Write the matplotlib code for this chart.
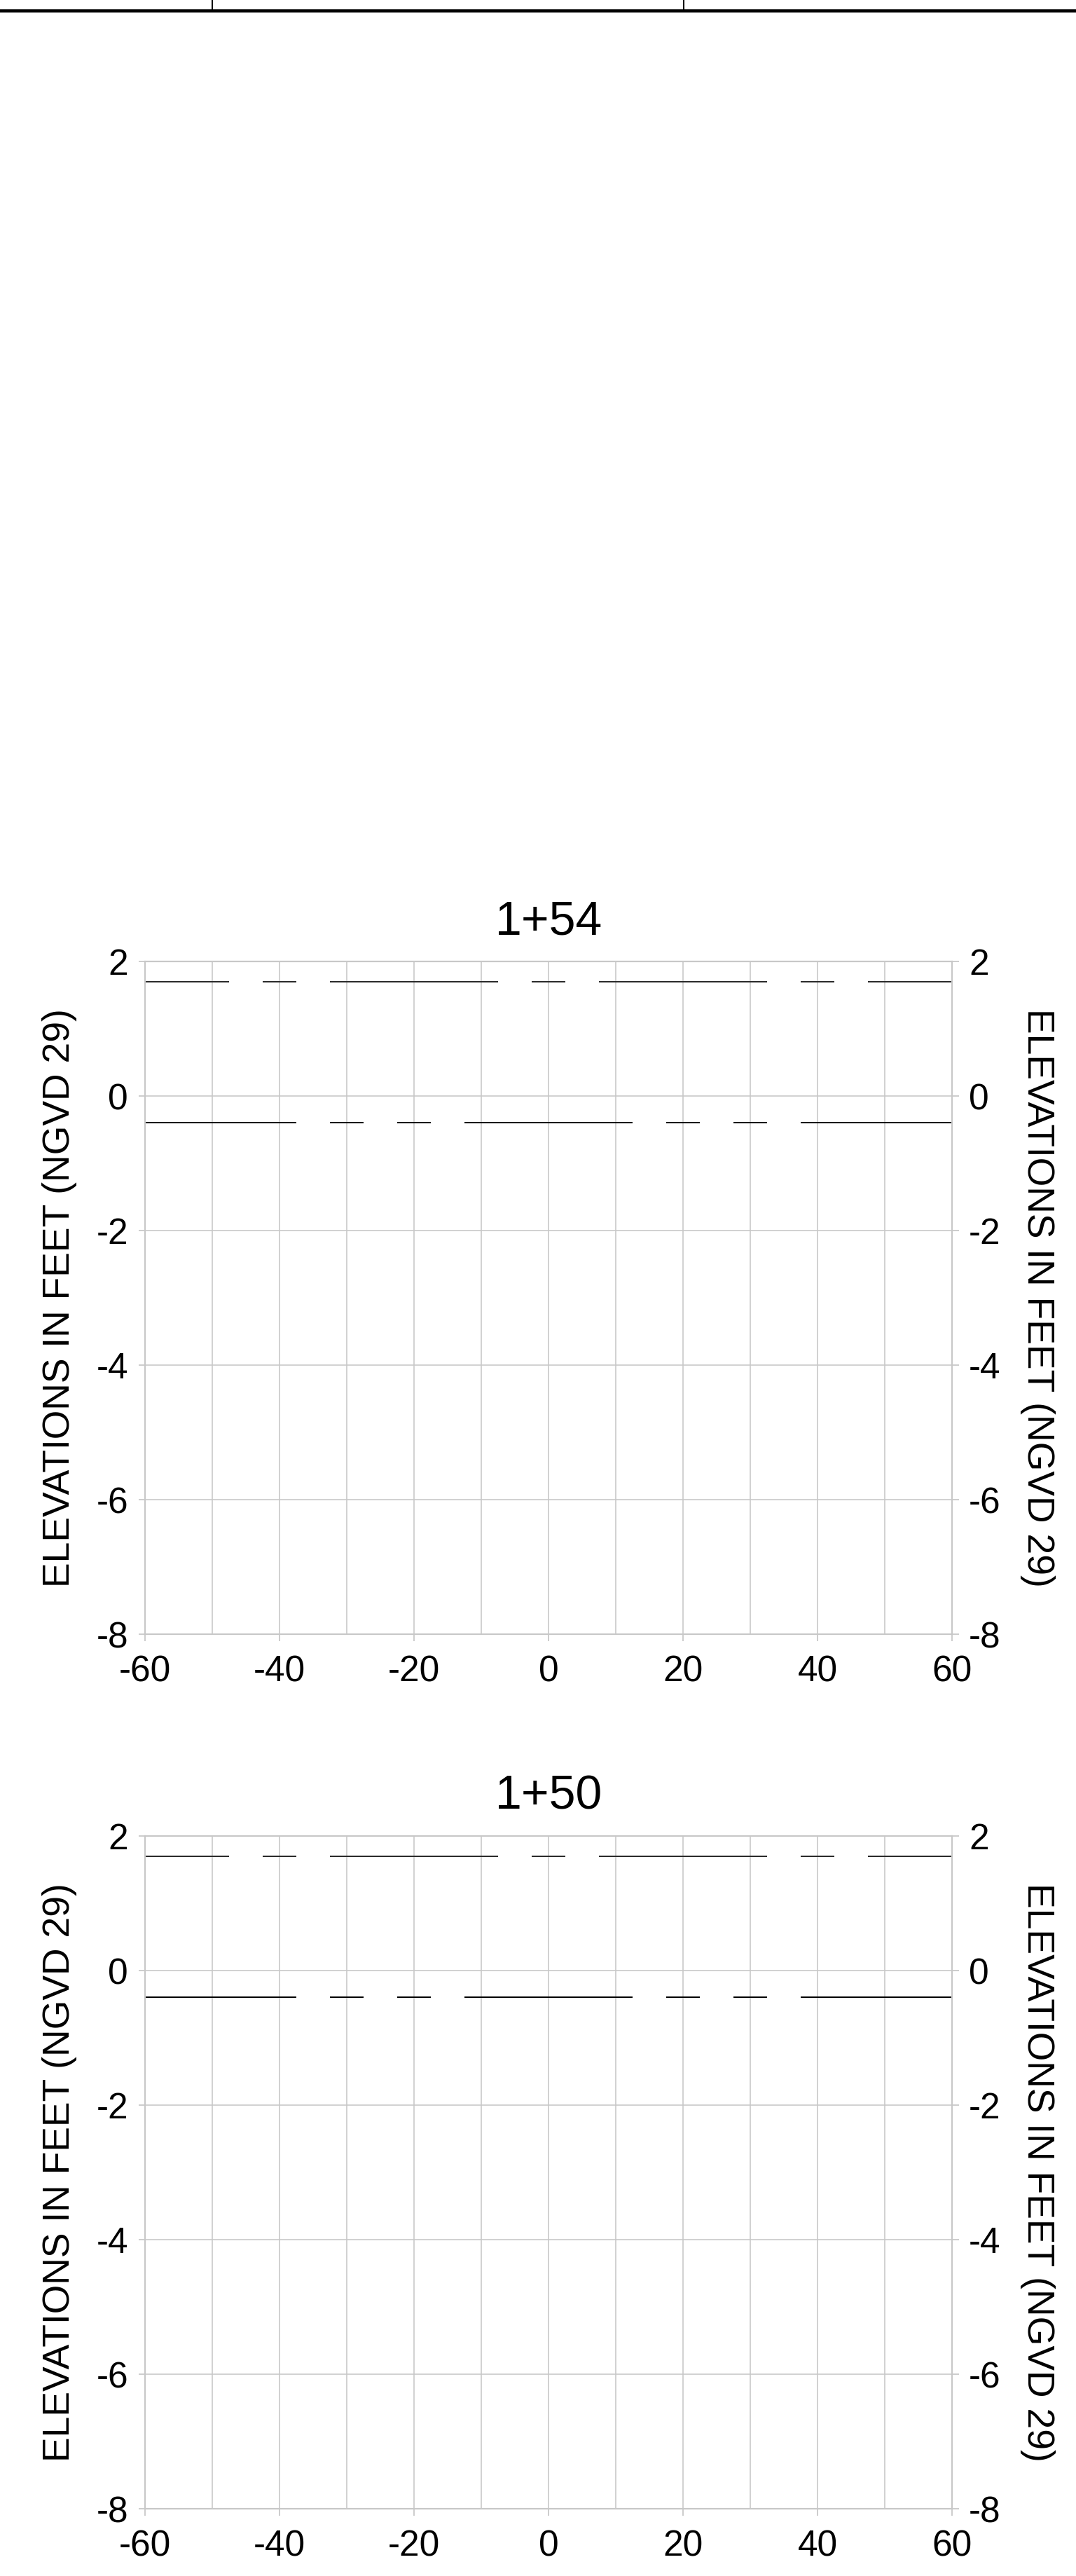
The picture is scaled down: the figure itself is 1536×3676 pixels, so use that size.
import matplotlib
matplotlib.use("Agg")
import matplotlib.pyplot as plt
from matplotlib.lines import Line2D

plt.rcParams['font.family'] = ['Liberation Sans', 'DejaVu Sans']
plt.rcParams['axes.unicode_minus'] = False

# data
stations = ['1+54', '1+50']
x_major = [-60, -40, -20, 0, 20, 40, 60]
x_minor = [-60, -50, -40, -30, -20, -10, 0, 10, 20, 30, 40, 50, 60]
y_ticks = [-8, -6, -4, -2, 0, 2]

# upper line (elev 1.7), drawn as dash segments
upper_elev = 1.7
upper_starts = [-60, -42.5, -32.5, -2.5, 7.5, 37.5, 47.5]
upper_ends = [-47.5, -37.5, -7.5, 2.5, 32.5, 42.5, 60]

# lower line (elev -0.4)
lower_elev = -0.4
lower_starts = [-60, -32.5, -22.5, -12.5, 17.5, 27.5, 37.5]
lower_ends = [-37.5, -27.5, -17.5, 12.5, 22.5, 32.5, 60]

ylabel = 'ELEVATIONS IN FEET (NGVD 29)'

W, H = 1536, 3676
fig = plt.figure(figsize=(W / 100, H / 100), dpi=100)

grid_c = '#c8c8c8'
px = 0.72  # points per pixel at dpi 100

# axes boxes in pixels: left, right, top, bottom
boxes = [(206.6, 1359.4, 1372, 2332), (206.6, 1359.4, 2620, 3580)]

for name, (l, r, t, b) in zip(stations, boxes):
    ax = fig.add_axes([l / W, 1 - b / H, (r - l) / W, (b - t) / H])
    ax.set_xlim(-60, 60)
    ax.set_ylim(-8, 2)
    ax.set_xticks(x_major)
    ax.set_xticks(x_minor, minor=True)
    ax.set_yticks(y_ticks)
    ax.grid(True, which='both', color=grid_c, linewidth=1.6 * px)
    for s in ax.spines.values():
        s.set_color(grid_c)
        s.set_linewidth(2.2 * px)
    ax.tick_params(axis='both', which='major', direction='out', length=9.5 * px,
                   width=1.8 * px, color=grid_c, labelsize=37, labelcolor='black')
    ax.tick_params(axis='x', which='minor', length=0)
    ax.tick_params(axis='x', pad=20 * px)
    ax.tick_params(axis='y', pad=14 * px, right=True, labelright=True)
    ax.set_axisbelow(True)

    ax.hlines([upper_elev] * len(upper_starts), upper_starts, upper_ends,
              colors='#2a2a2a', linewidth=2 * px)
    ax.hlines([lower_elev] * len(lower_starts), lower_starts, lower_ends,
              colors='black', linewidth=2 * px)

    ax.set_title(name, fontsize=49, pad=39 * px)
    ax.text(-0.0931, 0.5, ylabel, transform=ax.transAxes, rotation=90,
            rotation_mode='anchor', ha='center', va='baseline', fontsize=38.5)
    ax.text(1.0931, 0.5, ylabel, transform=ax.transAxes, rotation=270,
            rotation_mode='anchor', ha='center', va='baseline', fontsize=38.5)

# cut-off table border at the top of the sheet
fig.add_artist(Line2D([0, 1], [1 - 15.3 / H, 1 - 15.3 / H], transform=fig.transFigure,
                      color='black', linewidth=4.5 * px))
for vx in [303, 976]:
    fig.add_artist(Line2D([vx / W, vx / W], [1, 1 - 13.5 / H], transform=fig.transFigure,
                          color='black', linewidth=2 * px))

fig.savefig('out.png', dpi=100)
